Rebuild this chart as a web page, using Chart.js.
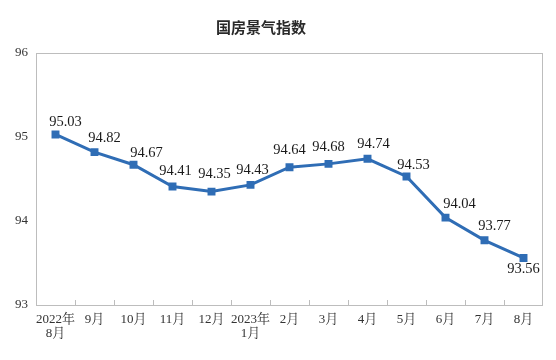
<!DOCTYPE html>
<html><head><meta charset="utf-8">
<script src="https://cdn.jsdelivr.net/npm/chart.js@4"></script>
<style>html,body{margin:0;padding:0;background:#fff}#wrap{width:556px;height:360px}</style>
</head><body><div id="wrap"><canvas id="c" width="556" height="360"></canvas></div>
<script>
const categories = [["2022年","8月"],"9月","10月","11月","12月",["2023年","1月"],"2月","3月","4月","5月","6月","7月","8月"];
const values = [95.03,94.82,94.67,94.41,94.35,94.43,94.64,94.68,94.74,94.53,94.04,93.77,93.56];
const yTicks = [93,94,95,96];
const titleText = "国房景气指数";
// label placement relative to each point (style only)
const labelDx = [10,10,13,3,3,2,0,0,6,7,14,10,0];
const labelDy = [-12,-14,-12,-15,-17,-15,-17,-17,-15,-11,-13,-14,11];

const serif = "'Liberation Serif','Noto Serif CJK SC','Noto Sans CJK SC',serif";
const lineColor = "#2f6db5";

const deco = {
  id:'deco',
  afterDraw(chart){
    const {ctx, chartArea:a, scales:{x}} = chart;
    ctx.save();
    ctx.strokeStyle = '#bdbdbd';
    ctx.lineWidth = 1;
    ctx.strokeRect(a.left+0.5, a.top+0.5, a.right-a.left-1, a.bottom-a.top);
    ctx.beginPath();
    for(let i=1;i<categories.length;i++){
      const px = Math.round((x.getPixelForValue(i-1)+x.getPixelForValue(i))/2)+0.5;
      ctx.moveTo(px, a.bottom); ctx.lineTo(px, a.bottom-5);
    }
    ctx.stroke();
    ctx.fillStyle = '#2a2a2a';
    ctx.font = "600 15px 'Noto Sans CJK SC',sans-serif";
    ctx.textAlign='center'; ctx.textBaseline='middle';
    ctx.fillText(titleText, 261, 27);
    const meta = chart.getDatasetMeta(0);
    ctx.font = "14.5px " + serif;
    ctx.fillStyle = '#1a1a1a';
    meta.data.forEach((pt,i)=>{
      ctx.fillText(values[i].toFixed(2), pt.x + labelDx[i], pt.y + labelDy[i]);
    });
    ctx.restore();
  }
};

new Chart(document.getElementById('c'), {
  type:'line',
  data:{labels:categories, datasets:[{data:values, borderColor:lineColor, backgroundColor:lineColor, borderWidth:3, pointStyle:'rect', pointRadius:3.5, pointHoverRadius:3.5, tension:0}]},
  options:{
    responsive:false, animation:false, devicePixelRatio:1,
    layout:{padding:{top:53, right:13, left:0, bottom:0}},
    plugins:{legend:{display:false}, title:{display:false}, tooltip:{enabled:false}},
    scales:{
      x:{offset:true, grid:{display:false, drawTicks:false}, border:{display:false},
        ticks:{color:'#333', font:{size:13, family:serif, lineHeight:1.05}, padding:8, maxRotation:0, autoSkip:false},
        afterFit(s){ s.height = 55; }},
      y:{min:93, max:96, grid:{display:false, drawTicks:false}, border:{display:false},
        afterBuildTicks(s){ s.ticks = yTicks.map(v=>({value:v})); },
        ticks:{color:'#333', font:{size:13, family:serif}, padding:8},
        afterFit(s){ s.width = 36; }}
    }
  },
  plugins:[deco]
});
</script></body></html>
